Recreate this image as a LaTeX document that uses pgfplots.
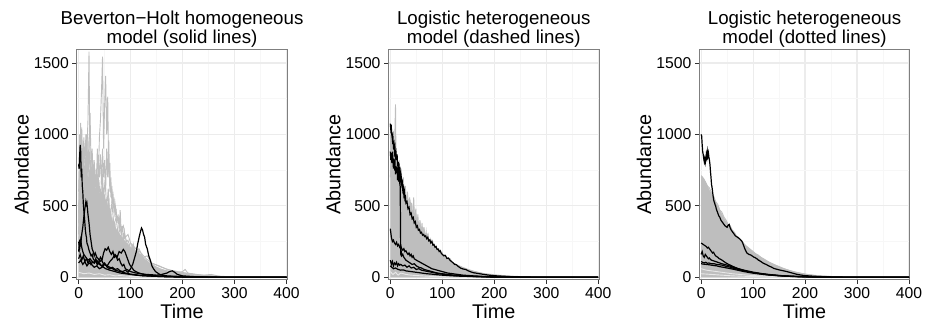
\documentclass[border=0pt]{standalone}
\usepackage{pgfplots}
\pgfplotsset{compat=1.18}
\usepackage{fontspec}
\setmainfont{Liberation Sans}
\definecolor{lg}{RGB}{190,190,190}
\definecolor{vl}{RGB}{232,232,232}
\definecolor{bd}{RGB}{127,127,127}
\pgfplotsset{
 panel/.style={
  scale only axis, width=210.5pt, height=229.6pt,
  anchor=south west,
  xmin=-3.5, xmax=401.5, ymin=-14, ymax=1593,
  xtick={0,100,200,300,400}, ytick={0,500,1000,1500},
  xticklabels={0,100,200,300,400}, yticklabels={0,500,1000,1500},
  minor xtick={50,150,250,350}, minor ytick={250,750,1250},
  grid=both,
  major grid style={draw=gray!15, line width=1.2pt},
  minor grid style={draw=gray!6, line width=0.9pt},
  axis line style={draw=bd, line width=0.9pt},
  tick align=outside, xtick pos=bottom, ytick pos=left,
  major tick length=4.5pt, minor tick length=0pt,
  tick style={black!80, line width=0.8pt},
  tick label style={font=\fontsize{15.7}{18}\selectfont},
  xlabel={Time}, ylabel={Abundance},
  label style={font=\fontsize{19.8}{22}\selectfont},
  ylabel style={at={(axis description cs:-0.262,0.5)}, anchor=center},
  xlabel style={at={(axis description cs:0.5,0)}, anchor=base, yshift=-39.2pt},
  title style={at={(axis description cs:0.5,1)}, anchor=south, inner sep=0pt, yshift=-3.5pt, align=center, font=\fontsize{18.7}{18.6}\selectfont},
 },
 gl/.style={lg, line width=0.9pt},
 wl/.style={vl, line width=0.9pt},
 bl/.style={black, line width=1.2pt},
}
\begin{document}
\begin{tikzpicture}
\path[use as bounding box] (0pt,0pt) rectangle (926pt,329pt);
% ---------------- Panel 1
\begin{axis}[panel, at={(76.8pt,49.7pt)}, title={Beverton−Holt homogeneous\\model (solid lines)}]
\addplot[fill=lg, draw=none] coordinates {(0,480)(3,650)(6,700)(10,740)(15,720)(20,700)(25,660)(30,640)(35,610)(40,590)(45,600)(50,560)(55,520)(60,460)(65,400)(70,360)(75,320)(80,300)(90,250)(100,210)(110,180)(120,160)(130,120)(140,95)(150,75)(160,58)(175,44)(190,34)(210,24)(230,16)(250,10)(275,5)(300,2)(330,0.5)(400,0)} \closedcycle;
\addplot[gl] coordinates {(0,450)(2,700)(4,1080)(6,620)(8,880)(10,560)(12,760)(14,640)(16,900)(18,1100)(20,1580)(22,700)(24,820)(26,600)(28,760)(30,540)(32,700)(34,620)(36,900)(38,700)(40,980)(42,1100)(44,1300)(46,1545)(48,900)(50,1200)(52,1410)(54,1000)(56,1265)(58,700)(60,800)(62,560)(64,640)(66,480)(68,560)(70,420)(72,480)(74,380)(76,440)(78,320)(80,470)(82,300)(84,360)(86,260)(88,320)(90,240)(95,260)(100,200)(105,230)(110,160)(115,180)(120,130)(130,110)(140,80)(150,60)(160,55)(170,40)(180,35)(190,30)(200,25)(220,15)(240,10)(260,6)(280,3)(300,1)(350,0)(400,0)};
\addplot[gl] coordinates {(0,600)(2,850)(4,700)(6,1050)(8,760)(10,980)(12,800)(14,1000)(16,720)(18,860)(20,900)(22,1150)(24,780)(26,900)(28,700)(30,820)(32,640)(34,760)(36,600)(38,820)(40,700)(42,860)(44,650)(46,900)(48,700)(50,820)(52,600)(54,900)(56,700)(58,960)(60,600)(62,700)(64,520)(66,600)(68,450)(70,520)(74,400)(78,420)(82,330)(86,360)(90,280)(95,300)(100,240)(110,200)(120,170)(130,130)(140,100)(160,70)(180,45)(200,30)(230,15)(260,8)(300,2)(400,0)};
\addplot[gl] coordinates {(0,380)(3,820)(6,560)(9,900)(12,650)(15,1000)(18,700)(21,880)(24,620)(27,800)(30,580)(33,720)(36,560)(39,680)(42,520)(45,760)(48,560)(51,680)(54,480)(57,620)(60,420)(64,520)(68,360)(72,420)(76,300)(80,340)(85,260)(90,280)(95,220)(100,240)(108,180)(116,200)(124,140)(132,150)(140,100)(155,80)(170,55)(190,40)(210,28)(240,14)(270,6)(300,2)(400,0)};
\addplot[gl] coordinates {(0,300)(2,1000)(4,560)(6,950)(8,700)(10,900)(12,520)(14,820)(16,600)(18,980)(20,640)(22,760)(24,520)(26,680)(28,560)(30,760)(32,480)(34,640)(36,520)(38,700)(40,460)(42,620)(44,500)(46,700)(48,440)(50,580)(52,380)(54,520)(56,400)(58,560)(60,360)(62,480)(64,300)(66,420)(68,320)(70,380)(72,260)(74,340)(76,240)(78,300)(80,220)(84,260)(88,190)(92,220)(96,160)(100,180)(106,140)(112,150)(118,110)(124,120)(130,90)(140,70)(150,55)(160,40)(175,30)(190,22)(210,15)(230,10)(250,6)(270,4)(300,1)(400,0)};
\addplot[gl] coordinates {(0,200)(3,600)(6,420)(9,750)(12,480)(15,640)(18,400)(21,560)(24,380)(27,520)(30,350)(33,480)(36,330)(39,450)(42,300)(45,420)(48,290)(51,400)(54,260)(57,360)(60,240)(63,330)(66,220)(69,300)(72,200)(75,260)(78,180)(81,230)(84,160)(87,200)(90,140)(95,170)(100,120)(105,140)(110,100)(115,110)(120,80)(130,70)(140,50)(150,45)(165,30)(180,25)(200,18)(215,22)(230,10)(260,5)(300,1)(400,0)};
\addplot[gl] coordinates {(0,150)(4,400)(8,300)(12,500)(16,350)(20,450)(24,300)(28,420)(32,280)(36,380)(40,250)(44,330)(48,230)(52,300)(56,200)(60,260)(65,180)(70,230)(75,160)(80,190)(85,140)(90,160)(95,120)(100,140)(105,230)(108,150)(112,200)(116,120)(120,160)(125,100)(130,120)(136,80)(142,90)(150,60)(160,50)(170,45)(185,30)(200,40)(205,55)(210,30)(225,20)(240,15)(255,20)(270,8)(290,4)(320,1)(400,0)};
\addplot[wl] coordinates {(0,35)(10,25)(20,30)(30,20)(40,25)(50,15)(60,18)(70,10)(80,12)(100,6)(130,3)(160,1)(200,0)(400,0)};
\addplot[bl] coordinates {(0,790)(1,760)(2,850)(3,926)(4,880)(5,700)(6,760)(7,640)(8,600)(9,520)(10,470)(11,430)(12,380)(13,330)(14,300)(15,280)(16,240)(18,220)(20,190)(22,170)(24,150)(26,160)(28,130)(30,120)(33,110)(36,90)(40,100)(44,80)(48,70)(52,60)(56,55)(60,50)(65,45)(70,40)(75,35)(80,30)(90,25)(100,20)(110,15)(120,12)(140,8)(160,5)(180,3)(200,2)(250,1)(300,0)(400,0)};
\addplot[bl] coordinates {(0,180)(2,250)(4,230)(6,300)(8,350)(10,420)(12,480)(14,530)(15,510)(16,520)(18,440)(20,380)(22,300)(24,250)(26,200)(28,180)(30,150)(32,170)(35,140)(38,130)(41,110)(44,120)(47,100)(50,90)(55,80)(60,70)(65,60)(70,50)(75,45)(80,40)(90,30)(100,22)(110,18)(120,12)(140,8)(160,5)(180,3)(200,1)(250,0)(400,0)};
\addplot[bl] coordinates {(0,250)(2,200)(4,260)(6,210)(8,180)(10,160)(14,140)(18,120)(22,130)(26,110)(30,100)(35,120)(40,90)(45,80)(50,100)(55,70)(60,60)(65,70)(70,55)(75,60)(80,45)(85,40)(90,50)(95,35)(100,60)(104,90)(108,140)(111,180)(114,240)(117,290)(119,320)(121,345)(123,330)(125,300)(127,280)(129,230)(132,200)(135,150)(138,120)(141,80)(144,60)(148,40)(152,30)(156,20)(160,15)(170,10)(180,8)(200,5)(230,2)(260,1)(300,0)(400,0)};
\addplot[bl] coordinates {(0,130)(3,160)(6,120)(9,150)(12,110)(15,130)(18,100)(21,120)(24,90)(27,110)(30,100)(33,130)(36,90)(39,110)(42,140)(45,120)(48,170)(51,200)(54,190)(57,210)(60,180)(63,160)(66,180)(69,140)(72,150)(75,120)(78,130)(81,100)(84,80)(87,90)(90,60)(95,50)(100,40)(110,30)(120,25)(130,20)(140,18)(150,15)(160,20)(170,30)(175,40)(180,45)(185,35)(190,20)(200,10)(220,5)(250,2)(300,0)(400,0)};
\addplot[bl] coordinates {(0,100)(4,120)(8,90)(12,110)(16,80)(20,100)(25,90)(30,70)(35,80)(40,60)(45,70)(50,90)(55,80)(60,110)(65,130)(70,160)(74,140)(78,180)(82,170)(86,195)(89,180)(92,150)(95,120)(98,90)(102,70)(106,50)(110,40)(116,30)(125,20)(135,15)(150,10)(170,6)(200,3)(250,1)(300,0)(400,0)};
\end{axis}
% ---------------- Panel 2
\begin{axis}[panel, at={(388.5pt,49.7pt)}, title={Logistic heterogeneous\\model (dashed lines)}]
\addplot[fill=lg, draw=none] coordinates {(0,900)(3,1000)(6,920)(9,880)(12,820)(15,760)(18,700)(21,660)(24,620)(27,580)(30,540)(35,490)(40,450)(45,410)(50,370)(55,340)(60,310)(70,260)(80,220)(90,185)(100,155)(110,130)(120,105)(130,88)(140,72)(150,58)(160,46)(170,36)(180,28)(190,22)(200,17)(215,12)(230,8)(250,5)(275,2.5)(300,1)(350,0.3)(400,0)} \closedcycle;
\addplot[gl] coordinates {(0,1000)(2,760)(4,960)(6,700)(8,900)(10,1210)(11,800)(13,860)(15,680)(17,820)(19,600)(21,760)(23,560)(25,700)(27,520)(29,640)(31,480)(33,600)(35,440)(37,560)(39,420)(41,520)(43,380)(45,560)(47,360)(49,480)(51,340)(53,440)(55,320)(57,400)(59,300)(61,380)(63,280)(65,350)(67,260)(69,320)(71,240)(73,290)(75,220)(77,260)(79,200)(82,240)(85,180)(88,210)(91,160)(94,190)(97,140)(100,170)(104,120)(108,140)(112,100)(116,115)(120,85)(125,95)(130,70)(135,75)(140,55)(150,45)(160,35)(170,28)(180,20)(195,15)(210,10)(230,6)(260,3)(300,1)(400,0)};
\addplot[gl] coordinates {(0,700)(3,900)(6,760)(9,840)(12,640)(15,780)(18,560)(21,700)(24,520)(27,640)(30,480)(33,580)(36,440)(39,520)(42,400)(45,480)(48,360)(51,420)(54,330)(57,380)(60,300)(64,340)(68,260)(72,300)(76,230)(80,260)(84,200)(88,220)(92,170)(96,190)(100,150)(105,160)(110,120)(115,130)(120,100)(130,80)(140,65)(150,50)(165,38)(180,26)(200,18)(220,11)(250,5)(300,1.5)(400,0)};
\addplot[wl] coordinates {(0,40)(5,20)(10,35)(15,15)(20,30)(30,20)(40,15)(60,10)(80,6)(100,4)(150,1)(200,0)(400,0)};
\addplot[bl] coordinates {(0,1075)(1,1030)(2,1045)(3,990)(4,960)(5,985)(6,920)(7,935)(8,880)(9,905)(10,850)(11,870)(12,820)(13,860)(14,780)(15,810)(16,750)(17,770)(18,720)(19,740)(20,680)(21,700)(22,650)(23,665)(24,610)(25,625)(26,580)(27,600)(28,550)(29,560)(30,520)(32,530)(34,480)(36,490)(38,440)(40,450)(42,410)(44,420)(46,380)(48,390)(50,350)(52,360)(54,330)(56,335)(58,310)(60,315)(62,295)(64,300)(66,285)(68,290)(70,270)(72,280)(74,255)(76,262)(78,240)(80,250)(82,225)(84,230)(86,210)(88,215)(90,195)(92,198)(94,180)(96,185)(98,168)(100,160)(103,150)(106,152)(109,132)(112,135)(115,118)(118,110)(121,100)(124,90)(127,88)(130,78)(135,65)(140,58)(145,55)(150,45)(155,38)(160,32)(170,26)(180,20)(190,15)(200,11)(215,8)(230,5)(250,3)(275,1)(300,0.5)(400,0)};
\addplot[bl] coordinates {(0,880)(1,820)(2,870)(3,800)(4,880)(5,830)(6,760)(7,830)(8,780)(9,800)(10,720)(11,770)(12,730)(13,780)(14,680)(15,730)(16,670)(17,700)(18,660)(19,635)(20,170)(21,180)(22,150)(24,160)(26,140)(28,130)(30,120)(34,110)(38,100)(42,90)(46,95)(50,80)(55,70)(60,65)(65,55)(70,50)(80,40)(90,30)(100,25)(120,15)(140,10)(160,6)(180,4)(200,2)(250,1)(300,0)(400,0)};
\addplot[bl] coordinates {(0,340)(2,280)(4,250)(6,260)(8,240)(10,230)(12,245)(14,220)(16,230)(18,210)(20,220)(22,200)(24,190)(26,200)(28,180)(30,185)(32,170)(34,160)(36,170)(38,150)(40,160)(42,140)(44,150)(46,130)(48,125)(50,120)(55,110)(60,100)(65,90)(70,80)(75,70)(80,60)(90,50)(100,40)(110,30)(120,25)(130,20)(140,15)(160,10)(180,6)(200,4)(250,1)(300,0)(400,0)};
\addplot[bl] coordinates {(0,120)(2,90)(4,110)(6,80)(8,100)(10,90)(12,105)(14,80)(16,95)(18,85)(20,90)(24,80)(28,85)(32,70)(36,80)(40,65)(45,70)(50,55)(55,60)(60,50)(70,42)(80,35)(90,28)(100,22)(120,15)(140,10)(160,6)(180,4)(200,2)(250,1)(300,0)(400,0)};
\addplot[bl] coordinates {(0,80)(3,70)(6,60)(10,65)(15,55)(20,50)(25,52)(30,45)(40,40)(50,35)(60,30)(70,25)(80,22)(90,18)(100,15)(120,10)(140,7)(160,5)(180,3)(200,2)(250,0.5)(400,0)};
\end{axis}
% ---------------- Panel 3
\begin{axis}[panel, at={(699.3pt,49.7pt)}, title={Logistic heterogeneous\\model (dotted lines)}]
\addplot[fill=lg, draw=none] coordinates {(0,715)(3,705)(6,690)(10,660)(15,620)(20,585)(25,550)(30,515)(35,480)(40,445)(45,410)(50,380)(55,350)(60,325)(65,300)(70,280)(75,260)(80,240)(90,210)(100,180)(110,155)(120,130)(130,110)(140,92)(150,76)(160,62)(170,50)(180,40)(190,32)(200,25)(210,19)(220,14)(235,9)(250,6)(270,3)(300,1)(350,0.2)(400,0)} \closedcycle;
\addplot[gl] coordinates {(0,700)(4,690)(8,670)(12,640)(16,625)(20,590)(24,570)(28,530)(32,510)(36,470)(40,455)(44,420)(48,400)(52,370)(56,360)(60,330)(64,315)(68,290)(72,280)(76,255)(80,245)(85,225)(90,210)(95,195)(100,180)(105,165)(110,155)(115,140)(120,130)(130,108)(140,90)(150,75)(160,60)(170,48)(180,38)(190,30)(200,23)(215,15)(230,10)(250,6)(275,3)(300,1)(400,0)};
\addplot[gl] coordinates {(0,640)(5,650)(10,600)(15,580)(20,540)(25,520)(30,470)(35,455)(40,410)(45,395)(50,350)(55,340)(60,300)(65,290)(70,260)(75,245)(80,220)(90,195)(100,160)(110,140)(120,115)(130,100)(140,80)(150,68)(160,52)(170,44)(180,34)(200,20)(220,12)(250,5)(300,1)(400,0)};
\addplot[wl] coordinates {(0,60)(10,50)(20,45)(40,35)(60,25)(80,18)(100,12)(150,5)(200,2)(250,0)(400,0)};
\addplot[wl] coordinates {(0,25)(20,20)(40,15)(60,10)(100,5)(150,2)(200,0)(400,0)};
\addplot[bl] coordinates {(0,1000)(1,990)(2,930)(3,880)(4,860)(5,830)(6,810)(7,830)(8,800)(9,820)(10,860)(11,840)(12,880)(13,850)(14,870)(15,840)(16,820)(17,790)(18,740)(19,700)(20,650)(21,630)(22,600)(23,570)(24,545)(25,530)(26,520)(27,505)(28,500)(29,480)(30,470)(32,450)(34,430)(36,420)(38,400)(40,390)(42,380)(44,370)(46,360)(48,355)(50,350)(52,365)(54,370)(56,345)(58,330)(60,320)(62,310)(64,300)(66,290)(68,285)(70,280)(72,275)(74,270)(76,262)(78,255)(80,240)(82,220)(84,200)(86,185)(88,170)(90,165)(92,160)(94,158)(96,155)(98,150)(100,145)(102,140)(104,138)(106,132)(108,128)(110,120)(112,118)(114,112)(116,108)(118,102)(120,98)(125,90)(130,80)(135,72)(140,62)(145,57)(150,52)(155,48)(160,44)(165,40)(170,35)(175,30)(180,25)(185,20)(190,17)(195,14)(200,12)(210,9)(220,7)(230,5)(240,4)(260,2)(280,1)(300,0.5)(400,0)};
\addplot[bl] coordinates {(0,240)(2,235)(4,230)(6,225)(8,220)(10,215)(12,205)(14,210)(16,200)(18,190)(20,180)(22,170)(24,175)(26,160)(28,150)(30,145)(32,140)(35,130)(38,125)(41,118)(44,110)(48,100)(52,92)(56,85)(60,78)(65,70)(70,62)(80,50)(90,40)(100,32)(115,24)(130,17)(150,11)(170,7)(190,4)(210,2)(250,1)(300,0)(400,0)};
\addplot[bl] coordinates {(0,160)(2,180)(4,150)(6,140)(8,160)(10,150)(12,140)(14,130)(16,135)(18,125)(20,120)(24,115)(28,110)(32,105)(36,100)(40,95)(45,90)(50,85)(55,80)(60,72)(70,62)(80,52)(90,44)(100,36)(115,27)(130,20)(150,13)(170,8)(190,5)(210,3)(250,1)(300,0)(400,0)};
\addplot[bl] coordinates {(0,110)(3,105)(6,100)(9,105)(12,98)(15,100)(20,95)(25,95)(30,90)(35,88)(40,85)(45,80)(50,75)(55,72)(60,65)(70,56)(80,48)(90,40)(100,33)(115,25)(130,18)(150,12)(170,8)(190,5)(210,3)(250,1)(300,0)(400,0)};
\addplot[bl] coordinates {(0,95)(5,92)(10,90)(15,88)(20,85)(25,82)(30,80)(35,75)(40,72)(50,65)(60,58)(70,50)(80,42)(90,35)(100,29)(120,20)(140,13)(160,8)(180,5)(200,3)(250,1)(300,0)(400,0)};
\end{axis}
\end{tikzpicture}
\end{document}
